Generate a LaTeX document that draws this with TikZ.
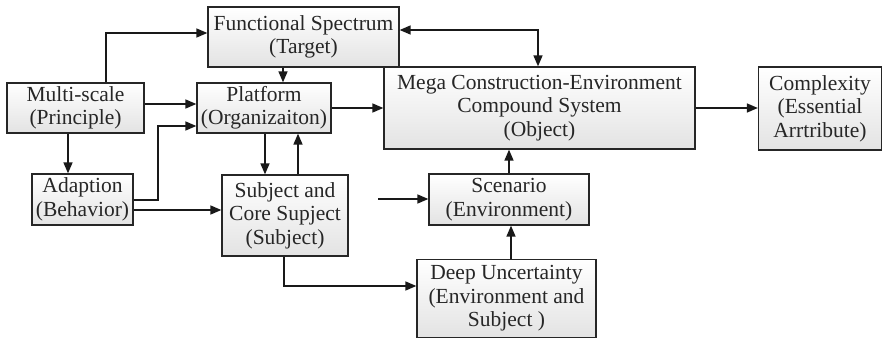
\documentclass[tikz,border=0pt]{standalone}
\usepackage{fontspec}
\setmainfont{Liberation Serif}
\usetikzlibrary{arrows.meta}
\begin{document}
\begin{tikzpicture}[x=1pt,y=1pt,
  box/.style={draw=black!85, line width=1.3pt, top color=white, bottom color=black!11,
    align=center, inner sep=0pt, font=\fontsize{21.5}{23.5}\selectfont, text=black!85},
  arr/.style={draw=black!90, line width=1.6pt, -{Triangle[length=11pt,width=9pt]}},
  arrb/.style={draw=black!90, line width=1.6pt, {Triangle[length=11pt,width=9pt]}-{Triangle[length=11pt,width=9pt]}}]
\useasboundingbox (0,0) rectangle (883,-339);
% blocks
\node[box, minimum width=191, minimum height=60] (FS) at (303.5,-37) {Functional Spectrum\\(Target)};
\node[box, minimum width=137, minimum height=50] (MS) at (75.5,-108) {Multi-scale\\(Principle)};
\node[box, minimum width=134, minimum height=50] (PL) at (264,-108) {Platform\\(Organizaiton)};
\node[box, minimum width=311, minimum height=82] (MG) at (539.5,-108) {Mega Construction-Environment\\Compound System\\(Object)};
\node[box, minimum width=123, minimum height=83] (CX) at (820,-108.5) {Complexity\\(Essential\\Arrtribute)};
\node[box, minimum width=101, minimum height=51] (AD) at (82.5,-199.5) {Adaption\\(Behavior)};
\node[box, minimum width=126, minimum height=81] (SB) at (285,-215.5) {Subject and\\Core Supject\\(Subject)};
\node[box, minimum width=160, minimum height=51] (SC) at (509,-199.5) {Scenario\\(Environment)};
\node[box, minimum width=179, minimum height=78] (DU) at (506.5,-298.5) {Deep Uncertainty\\(Environment and\\Subject )};
\coordinate (free) at (378,-199);
% connectors
\draw[arr] (MS.north -| 106,0) |- (FS.west |- 0,-33);
\draw[arrb] (FS.east |- 0,-30) -| (MG.north -| 538,0);
\draw[arr] (FS.south -| 283,0) -- (PL.north -| 283,0);
\draw[arr] (MS.east |- 0,-104) -- (PL.west |- 0,-104);
\draw[arr] (PL.east) -- (MG.west |- PL.east);
\draw[arr] (MG.east) -- (CX.west |- MG.east);
\draw[arr] (MS.south -| 68,0) -- (AD.north -| 68,0);
\draw[arr] (AD.east |- 0,-200) -- (158,-200) |- (PL.west |- 0,-126);
\draw[arr] (AD.east |- 0,-210) -- (SB.west |- 0,-210);
\draw[arr] (PL.south -| 265,0) -- (SB.north -| 265,0);
\draw[arr] (SB.north -| 298,0) -- (PL.south -| 298,0);
\draw[arr] (SB.south -| 284,0) |- (DU.west |- 0,-286);
\draw[arr] (free) -- (SC.west |- free);
\draw[arr] (DU.north -| 511,0) -- (SC.south -| 511,0);
\draw[arr] (SC.north -| 509,0) -- (MG.south -| 509,0);
\end{tikzpicture}
\end{document}
